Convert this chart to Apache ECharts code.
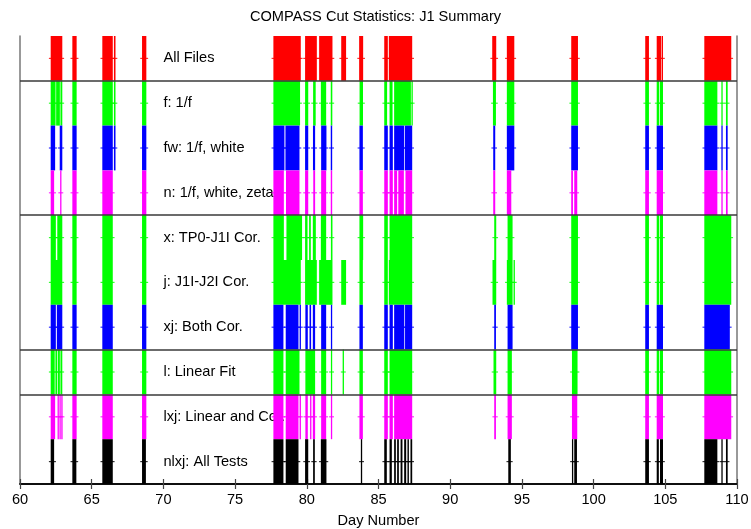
<!DOCTYPE html>
<html>
<head>
<meta charset="utf-8">
<script src="https://cdn.jsdelivr.net/npm/echarts@6/dist/echarts.min.js"></script>
<style>html,body{margin:0;padding:0;background:#fff}#c{width:751px;height:529px}</style>
</head>
<body>
<div id="c"></div>
<script>
// ---- DATA ----
const titleText = 'COMPASS Cut Statistics: J1 Summary';
const xAxisName = 'Day Number';
const xTicks = [60, 65, 70, 75, 80, 85, 90, 95, 100, 105, 110];
const rowLabels = ['All Files', 'f: 1/f', 'fw: 1/f, white', 'n: 1/f, white, zeta', 'x: TP0-J1I Cor.',
  'j: J1I-J2I Cor.', 'xj: Both Cor.', 'l: Linear Fit', 'lxj: Linear and Cor.', 'nlxj: All Tests'];
const separatorRows = [9, 6, 3, 2];
const labelDay = 70;

// intervals (start day, end day) for each row
const allFiles = [[62.14,62.95],[63.65,63.95],[65.74,66.47],[66.55,66.66],[68.51,68.81],[77.67,79.58],[79.88,80.70],[80.86,81.79],[82.40,82.74],[83.65,83.93],[85.40,85.65],[85.72,87.35],[92.93,93.21],[93.95,94.47],[98.44,98.91],[103.60,103.86],[104.40,104.70],[104.74,104.84],[107.72,109.60]];
const f = [[62.14,62.48],[62.52,62.78],[62.82,62.95],[63.65,63.95],[65.74,66.47],[66.55,66.66],[68.51,68.81],[77.67,79.53],[79.88,80.10],[80.44,80.62],[80.98,81.35],[81.67,81.78],[83.68,83.92],[85.40,85.60],[85.77,85.98],[86.09,87.26],[87.30,87.35],[92.98,93.19],[93.95,94.47],[98.44,98.91],[103.60,103.86],[104.40,104.58],[104.63,104.84],[107.72,108.63],[108.91,109.00],[109.23,109.35]];
const fw = [[62.14,62.45],[62.77,62.95],[63.65,63.95],[65.74,66.47],[66.55,66.66],[68.51,68.81],[77.67,78.44],[78.51,79.49],[79.88,80.10],[80.43,80.58],[81.00,81.37],[81.67,81.77],[83.67,83.91],[85.40,85.65],[85.77,86.00],[86.09,86.79],[86.84,87.35],[93.00,93.14],[93.95,94.47],[98.44,98.91],[103.60,103.86],[104.40,104.84],[107.72,108.63],[108.91,109.00],[109.23,109.35]];
const n = [[62.14,62.38],[62.80,62.88],[63.65,63.95],[65.74,66.47],[68.51,68.81],[77.67,78.40],[78.55,79.49],[79.88,80.10],[80.45,80.58],[81.00,81.35],[81.67,81.77],[83.67,83.91],[85.40,85.65],[85.77,86.00],[86.09,86.30],[86.38,86.77],[86.88,87.35],[93.00,93.14],[93.95,94.26],[98.44,98.56],[98.65,98.86],[103.60,103.86],[104.40,104.84],[107.72,108.63],[108.91,109.00],[109.23,109.35]];
const x = [[62.14,62.50],[62.60,62.95],[63.65,63.95],[65.74,66.47],[68.51,68.81],[77.67,78.40],[78.58,79.67],[79.88,80.05],[80.16,80.28],[80.42,80.63],[80.98,81.35],[81.68,81.79],[83.67,83.93],[85.40,85.65],[85.77,87.35],[93.07,93.21],[94.00,94.35],[98.44,98.91],[103.60,103.86],[104.40,104.58],[104.63,104.84],[107.72,109.60]];
const j = [[62.14,62.95],[63.65,63.95],[65.74,66.47],[68.51,68.81],[77.67,79.58],[79.88,80.70],[80.86,81.79],[82.40,82.74],[83.67,83.91],[85.40,85.65],[85.72,87.35],[92.95,93.21],[93.95,94.35],[94.42,94.47],[98.44,98.91],[103.60,103.86],[104.40,104.58],[104.63,104.84],[107.72,109.60]];
const xj = [[62.14,62.50],[62.57,62.95],[63.65,63.95],[65.74,66.47],[68.51,68.81],[77.67,78.37],[78.53,79.42],[79.50,79.55],[79.90,80.07],[80.19,80.30],[80.42,80.58],[81.00,81.35],[81.68,81.77],[83.67,83.91],[85.40,85.65],[85.77,86.00],[86.09,86.80],[86.85,87.35],[93.07,93.19],[94.00,94.35],[98.44,98.91],[103.60,103.86],[104.40,104.84],[107.72,109.50]];
const l = [[62.14,62.42],[62.47,62.60],[62.65,62.78],[62.82,62.95],[63.65,63.95],[65.74,66.47],[68.51,68.81],[77.67,78.37],[78.53,79.49],[79.90,80.58],[81.00,81.35],[81.68,81.77],[82.50,82.54],[83.67,83.91],[85.40,85.65],[85.77,87.35],[93.02,93.21],[94.00,94.30],[98.49,98.88],[103.60,103.86],[104.40,104.58],[104.63,104.84],[107.72,109.60]];
const lxj = [[62.14,62.45],[62.62,62.68],[62.75,62.80],[62.88,62.95],[63.65,63.95],[65.74,66.47],[68.51,68.81],[77.67,78.37],[78.53,79.42],[79.50,79.56],[79.90,80.07],[80.23,80.30],[80.42,80.58],[81.00,81.35],[81.68,81.77],[83.67,83.91],[85.40,85.65],[85.77,86.00],[86.09,87.35],[93.07,93.19],[94.00,94.30],[98.49,98.86],[103.60,103.86],[104.40,104.84],[107.72,109.60]];
const nlxj = [[62.14,62.38],[63.65,63.93],[65.74,66.47],[68.51,68.78],[77.67,78.37],[78.53,79.42],[79.88,80.10],[80.44,80.56],[80.98,81.37],[83.77,83.82],[85.40,85.58],[85.77,85.93],[86.09,86.21],[86.30,86.42],[86.54,86.67],[86.79,86.93],[87.02,87.12],[87.23,87.35],[94.05,94.23],[98.49,98.58],[98.65,98.84],[103.60,103.86],[104.40,104.55],[104.63,104.84],[107.72,108.63],[108.91,109.00],[109.23,109.35]];

const rowIntervals = [allFiles, f, fw, n, x, j, xj, l, lxj, nlxj];
// ---- STYLE ----
const rowColors = ['#ff0000','#00ff00','#0000ff','#ff00ff','#00ff00','#00ff00','#0000ff','#00ff00','#ff00ff','#000000'];
const FONT = '"Liberation Sans", Arial, sans-serif';

const nRows = rowLabels.length;
const series = [];

// labels (drawn beneath the bars)
series.push({
  type: 'custom', z: 1, silent: true,
  data: rowLabels.map((t, i) => [labelDay, nRows - 1 - i + 0.5]),
  renderItem: function (params, api) {
    const p = api.coord([api.value(0), api.value(1)]);
    return { type: 'text', x: p[0], y: p[1],
      style: { text: rowLabels[params.dataIndex], fill: '#000', font: '14.6px ' + FONT,
        textAlign: 'left', textVerticalAlign: 'middle' } };
  }
});

rowIntervals.forEach(function (arr, i) {
  const r = nRows - 1 - i;
  const color = rowColors[i];
  series.push({
    type: 'custom', z: 2, silent: true,
    data: arr.map(d => [d[0], d[1], r]),
    renderItem: function (params, api) {
      const s = api.value(0), e = api.value(1), rr = api.value(2);
      const p0 = api.coord([s, rr + 1]);
      const p1 = api.coord([e, rr]);
      const w = Math.max(p1[0] - p0[0], 1.3);
      const cy = (p0[1] + p1[1]) / 2;
      return { type: 'group', children: [
        { type: 'rect', shape: { x: p0[0], y: p0[1], width: w, height: p1[1] - p0[1] }, style: { fill: color } },
        { type: 'line', shape: { x1: p0[0] - 1.8, y1: cy, x2: p0[0] + w + 1.8, y2: cy }, style: { stroke: color, lineWidth: 1.2, opacity: 0.8 } }
      ] };
    }
  });
});

// separators
series.push({
  type: 'line', data: [], z: 5,
  markLine: { silent: true, symbol: 'none', animation: false,
    label: { show: false },
    lineStyle: { color: '#3a3a3a', width: 1.5, type: 'solid' },
    data: separatorRows.map(v => ({ yAxis: v })) }
});

const chart = echarts.init(document.getElementById('c'), null, { renderer: 'canvas' });
chart.setOption({
  animation: false,
  backgroundColor: '#fff',
  title: { text: titleText, left: 'center', top: 4,
    textStyle: { fontFamily: FONT, fontSize: 14.6, fontWeight: 'normal', color: '#000' } },
  grid: { left: 20, right: 14, top: 36, bottom: 45, containLabel: false, outerBoundsMode: 'none' },
  xAxis: [
    { type: 'value', position: 'bottom', min: xTicks[0], max: xTicks[xTicks.length - 1], interval: 5,
      name: xAxisName, nameLocation: 'middle', nameGap: 29,
      nameTextStyle: { fontFamily: FONT, fontSize: 14.6, color: '#000' },
      axisLine: { show: true, lineStyle: { color: '#000', width: 1.5 } },
      axisTick: { show: true, inside: true, length: 5, lineStyle: { color: '#444', width: 1.2 } },
      axisLabel: { fontFamily: FONT, fontSize: 14.6, color: '#000', margin: 8 },
      splitLine: { show: false } },
    { type: 'value', position: 'top', min: xTicks[0], max: xTicks[xTicks.length - 1], interval: 5,
      axisLine: { show: true, lineStyle: { color: '#000', width: 1.5 } },
      axisTick: { show: true, inside: true, length: 5, lineStyle: { color: '#444', width: 1.2 } },
      axisLabel: { show: false }, splitLine: { show: false } }
  ],
  yAxis: [
    { type: 'value', position: 'left', min: 0, max: nRows,
      axisLine: { show: true, lineStyle: { color: '#777', width: 1.5 } },
      axisTick: { show: false }, axisLabel: { show: false }, splitLine: { show: false } },
    { type: 'value', position: 'right', min: 0, max: nRows,
      axisLine: { show: true, lineStyle: { color: '#777', width: 1.5 } },
      axisTick: { show: false }, axisLabel: { show: false }, splitLine: { show: false } }
  ],
  series: series
});
</script>
</body>
</html>
